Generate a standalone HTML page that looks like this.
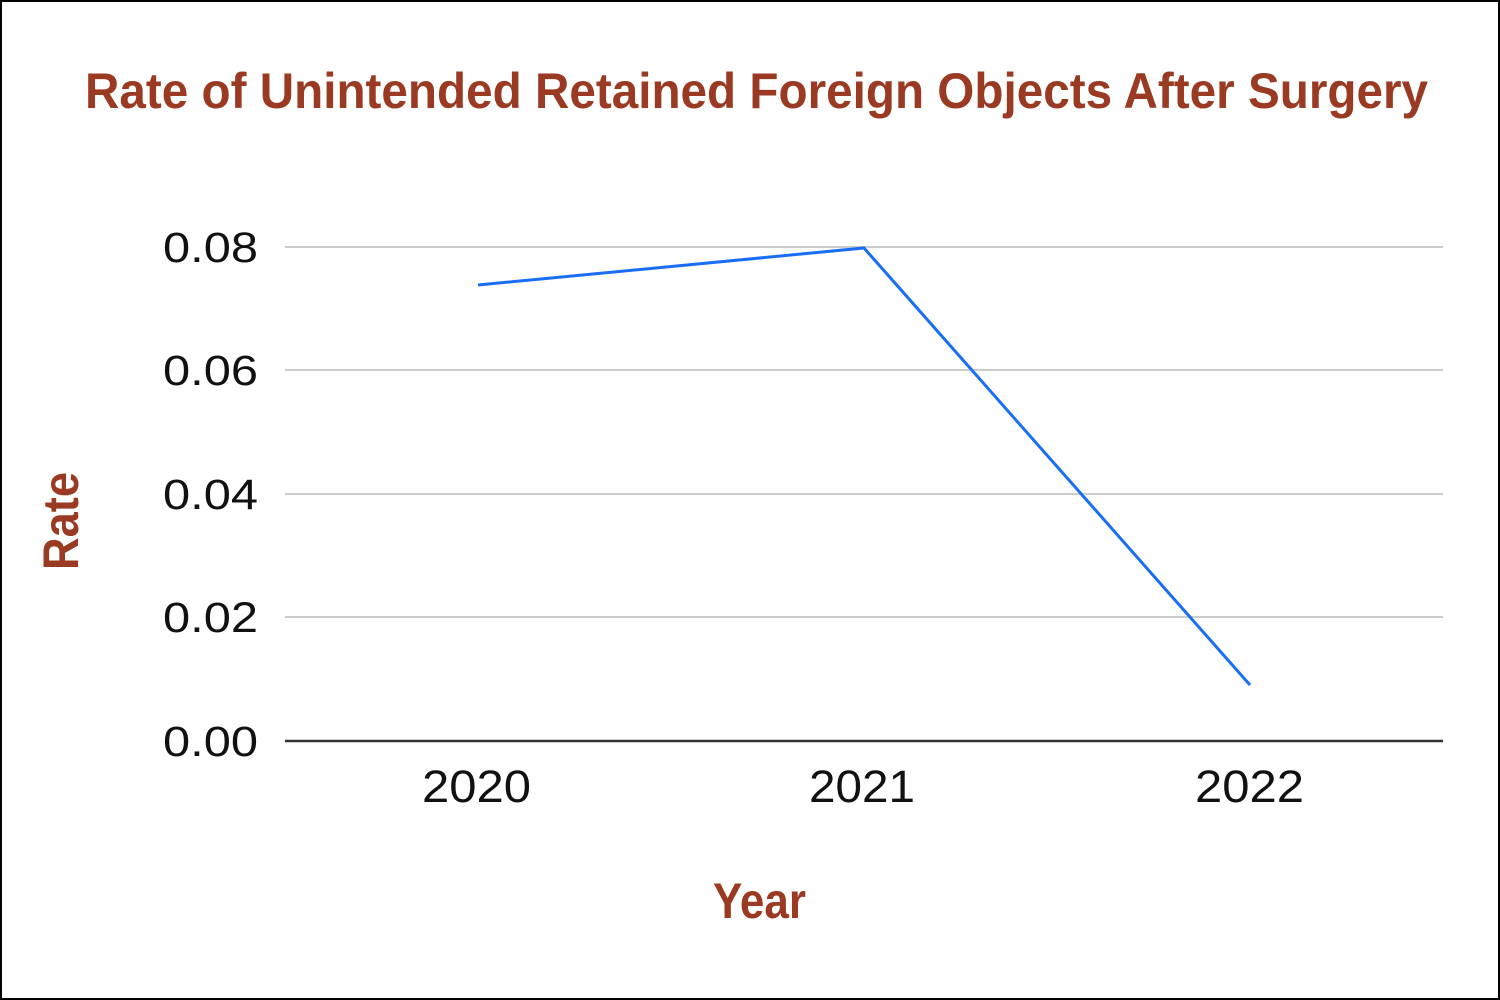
<!DOCTYPE html>
<html><head><meta charset="utf-8"><style>
html,body{margin:0;padding:0;background:#fff}
svg{display:block}
</style></head><body>
<svg width="1500" height="1000" viewBox="0 0 1500 1000" xmlns="http://www.w3.org/2000/svg">
<rect x="1" y="1" width="1498" height="998" fill="#fff" stroke="#000" stroke-width="2"/>
<text x="85" y="108" font-family="'Liberation Sans Narrow','Liberation Sans',sans-serif" font-weight="bold" font-size="50" fill="#9a3a22" textLength="1343" lengthAdjust="spacingAndGlyphs">Rate of Unintended Retained Foreign Objects After Surgery</text>
<g stroke="#cccccc" stroke-width="2">
<line x1="285" y1="247" x2="1443" y2="247"/>
<line x1="285" y1="370" x2="1443" y2="370"/>
<line x1="285" y1="494" x2="1443" y2="494"/>
<line x1="285" y1="617" x2="1443" y2="617"/>
</g>
<line x1="285" y1="741" x2="1443" y2="741" stroke="#333" stroke-width="2.5"/>
<g font-family="'Liberation Sans',sans-serif" font-size="43" fill="#111" text-anchor="end">
<text x="258" y="262" textLength="95" lengthAdjust="spacingAndGlyphs">0.08</text>
<text x="258" y="385" textLength="95" lengthAdjust="spacingAndGlyphs">0.06</text>
<text x="258" y="509" textLength="95" lengthAdjust="spacingAndGlyphs">0.04</text>
<text x="258" y="632" textLength="95" lengthAdjust="spacingAndGlyphs">0.02</text>
<text x="258" y="756" textLength="95" lengthAdjust="spacingAndGlyphs">0.00</text>
</g>
<g font-family="'Liberation Sans',sans-serif" font-size="45" fill="#111">
<text x="422" y="802" textLength="109" lengthAdjust="spacingAndGlyphs">2020</text>
<text x="809" y="802" textLength="106" lengthAdjust="spacingAndGlyphs">2021</text>
<text x="1195" y="802" textLength="109" lengthAdjust="spacingAndGlyphs">2022</text>
</g>
<polyline points="478,285 864,248 1250,685" fill="none" stroke="#1a6ef5" stroke-width="3"/>
<text x="713" y="918" textLength="93" lengthAdjust="spacingAndGlyphs" font-family="'Liberation Sans',sans-serif" font-weight="bold" font-size="50" fill="#9a3a22">Year</text>
<text transform="translate(78,570) rotate(-90)" textLength="98" lengthAdjust="spacingAndGlyphs" font-family="'Liberation Sans',sans-serif" font-weight="bold" font-size="50" fill="#9a3a22">Rate</text>
</svg>
</body></html>
